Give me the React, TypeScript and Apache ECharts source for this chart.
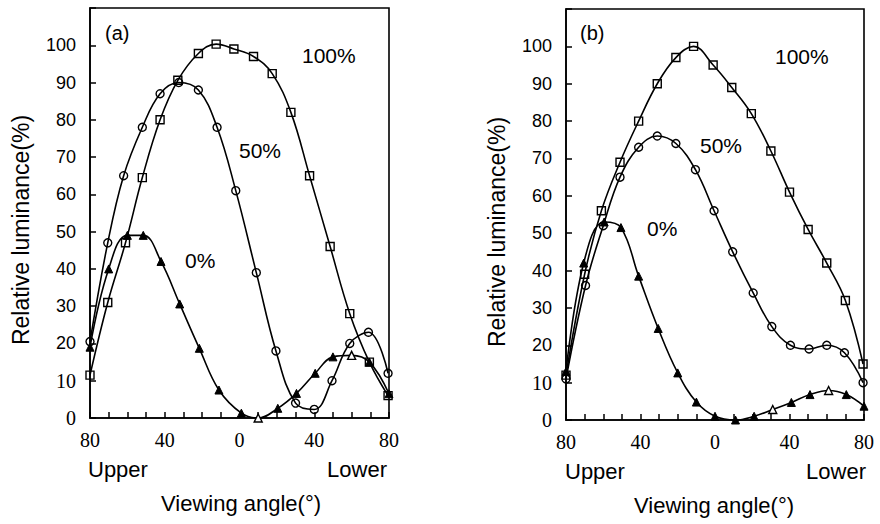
import React, { useEffect, useRef } from "react";
import * as echarts from "echarts";

// ---- Data ----
// Panel (a)
const aAngle100 = [-80, -70.5, -61, -52, -42.5, -33, -22, -12.5, -3, 7.5, 17.5, 27.5, 37.5, 48.5, 59, 69.5, 79.5];
const aLum100 = [11.5, 31, 47, 64.5, 80, 90.6, 97.8, 100.3, 99, 97, 92.4, 82, 65, 46, 28, 15, 6];
const aAngle50 = [-80, -70.5, -62, -52, -42.5, -32.5, -22, -12, -2, 9, 19.5, 30, 40, 49.5, 59, 69, 79.5];
const aLum50 = [20.5, 47, 65, 78, 87, 90, 88, 78, 61, 39, 18, 4, 2.3, 10, 20, 23, 12];
const aAngle0 = [-80, -70, -60, -51.5, -42, -32, -21.5, -11, 1, 10, 20.5, 30.5, 40.5, 50, 60, 69.5, 80];
const aLum0 = [19, 40, 49, 49, 42, 30.6, 18.7, 7.5, 1.3, 0, 2.6, 6.6, 12, 16.4, 16.8, 15, 6.5];
const aOpen0 = [10, 60];
// Panel (b)
const bAngle100 = [-80, -70, -61, -51, -41, -31, -21, -11.5, -1, 9, 19.5, 30, 40, 50, 60, 70, 79.5];
const bLum100 = [12, 39, 56, 69, 80, 90, 97, 100, 95, 89, 82, 72, 61, 51, 42, 32, 15];
const bAngle50 = [-80, -69.5, -60, -51, -41, -31, -21, -10.5, -0.5, 9.5, 20.5, 30.5, 40.5, 50.5, 60, 69.5, 79.5];
const bLum50 = [11, 36, 52, 65, 73, 76, 74, 67, 56, 45, 34, 25, 20, 19, 20, 18, 10];
const bAngle0 = [-80, -70.5, -59.5, -50.5, -41, -30.5, -20, -10, 0, 11, 21, 31, 41, 51, 61, 70.5, 80];
const bLum0 = [13, 42, 53, 51.5, 38.5, 24.5, 12.6, 4.8, 1, 0, 1, 2.8, 4.7, 6.8, 7.9, 6.8, 3.7];
const bOpen0 = [31, 61];

const xTickValues = [-80, -40, 0, 40, 80];
const xTickLabels = ["80", "40", "0", "40", "80"];
const yTickLabels = ["0", "10", "20", "30", "40", "50", "60", "70", "80", "90", "100"];

const SANS = '"Liberation Sans", Arial, sans-serif';
const SERIF = '"Liberation Serif", "Times New Roman", serif';

function pairs(xs: number[], ys: number[]) {
  return xs.map((x, i) => [x, ys[i]]);
}

function triData(xs: number[], ys: number[], open: number[]) {
  return xs.map((x, i) =>
    open.includes(x)
      ? { value: [x, ys[i]], itemStyle: { color: "#fff", borderColor: "#000", borderWidth: 1.4 } }
      : { value: [x, ys[i]] }
  );
}

export default function App() {
  const ref = useRef<HTMLDivElement>(null);
  useEffect(() => {
    document.body.style.margin = "0";
    if (!ref.current) return;
    const chart = echarts.init(ref.current, null, { renderer: "svg" });

    const grids = [
      { left: 90, top: 8, width: 299, height: 410 },
      { left: 566, top: 9, width: 298, height: 411 },
    ];

    const xAxisBase = (gi: number) => ({
      type: "value",
      gridIndex: gi,
      min: -80,
      max: 80,
      interval: 10,
      axisLine: { show: true, onZero: false, lineStyle: { color: "#000", width: 1.6 } },
      axisTick: { show: true, inside: true, length: 6, lineStyle: { color: "#000", width: 1.5 } },
      splitLine: { show: false },
      axisLabel: {
        color: "#000",
        fontFamily: SERIF,
        fontSize: 20,
        margin: 12,
        formatter: (v: number) => {
          const i = xTickValues.indexOf(v);
          return i >= 0 ? xTickLabels[i] : "";
        },
      },
    });

    const yAxisBase = (gi: number) => ({
      type: "value",
      gridIndex: gi,
      min: 0,
      max: 110,
      interval: 10,
      axisLine: { show: true, onZero: false, lineStyle: { color: "#000", width: 1.6 } },
      axisTick: { show: true, inside: true, length: 6, lineStyle: { color: "#000", width: 1.5 } },
      splitLine: { show: false },
      axisLabel: {
        color: "#000",
        margin: 14,
        formatter: (v: number) => {
          const s = yTickLabels[Math.round(v / 10)];
          if (s === undefined) return "";
          return v <= 10 ? `{s|${s}}` : `{n|${s}}`;
        },
        rich: {
          s: { fontFamily: SERIF, fontSize: 20, color: "#000" },
          n: { fontFamily: SANS, fontSize: 18, color: "#000" },
        },
      },
    });

    const lineBase = {
      type: "line",
      smooth: 0.4,
      symbolSize: 8,
      lineStyle: { color: "#000", width: 1.6 },
      z: 3,
    };
    const sq = { symbol: "rect", itemStyle: { color: "rgba(255,255,255,0)", borderColor: "#000", borderWidth: 1.4 } };
    const ci = { symbol: "circle", itemStyle: { color: "rgba(255,255,255,0)", borderColor: "#000", borderWidth: 1.4 } };
    const tr = { symbol: "triangle", itemStyle: { color: "#000", borderColor: "#000", borderWidth: 1 } };

    const txt = (text: string, x: number, y: number, size: number, align = "left", extra: any = {}) => ({
      type: "text",
      x,
      y,
      ...extra,
      style: {
        text,
        fontSize: size,
        fontFamily: SANS,
        fill: "#000",
        align,
        textAlign: align,
        verticalAlign: "middle",
        textVerticalAlign: "middle",
      },
    });

    chart.setOption({
      animation: false,
      backgroundColor: "#fff",
      grid: grids.map((g) => ({ ...g, show: true, borderColor: "#000", borderWidth: 1.6, backgroundColor: "transparent" })),
      xAxis: [xAxisBase(0), xAxisBase(1)],
      yAxis: [yAxisBase(0), yAxisBase(1)],
      series: [
        { ...lineBase, ...sq, name: "a 100%", xAxisIndex: 0, yAxisIndex: 0, data: pairs(aAngle100, aLum100) },
        { ...lineBase, ...ci, name: "a 50%", xAxisIndex: 0, yAxisIndex: 0, data: pairs(aAngle50, aLum50) },
        { ...lineBase, ...tr, name: "a 0%", xAxisIndex: 0, yAxisIndex: 0, data: triData(aAngle0, aLum0, aOpen0) },
        { ...lineBase, ...sq, name: "b 100%", xAxisIndex: 1, yAxisIndex: 1, data: pairs(bAngle100, bLum100) },
        { ...lineBase, ...ci, name: "b 50%", xAxisIndex: 1, yAxisIndex: 1, data: pairs(bAngle50, bLum50) },
        { ...lineBase, ...tr, name: "b 0%", xAxisIndex: 1, yAxisIndex: 1, data: triData(bAngle0, bLum0, bOpen0) },
      ],
      graphic: [
        txt("(a)", 105, 33, 20),
        txt("100%", 302, 55, 21),
        txt("50%", 239, 150, 21),
        txt("0%", 185, 260, 21),
        txt("(b)", 580, 33, 20),
        txt("100%", 775, 56, 21),
        txt("50%", 700, 145, 21),
        txt("0%", 647, 228, 21),
        txt("Relative luminance(%)", 21, 230, 23, "center", { rotation: Math.PI / 2 }),
        txt("Relative luminance(%)", 497, 232, 23, "center", { rotation: Math.PI / 2 }),
        txt("Upper", 88, 469, 22),
        txt("Lower", 387, 469, 22, "right"),
        txt("Viewing angle(°)", 241, 503, 22, "center"),
        txt("Upper", 565, 471, 22),
        txt("Lower", 866, 471, 22, "right"),
        txt("Viewing angle(°)", 714, 505, 22, "center"),
      ],
    });
    return () => chart.dispose();
  }, []);
  return <div ref={ref} style={{ width: 880, height: 524 }} />;
}
